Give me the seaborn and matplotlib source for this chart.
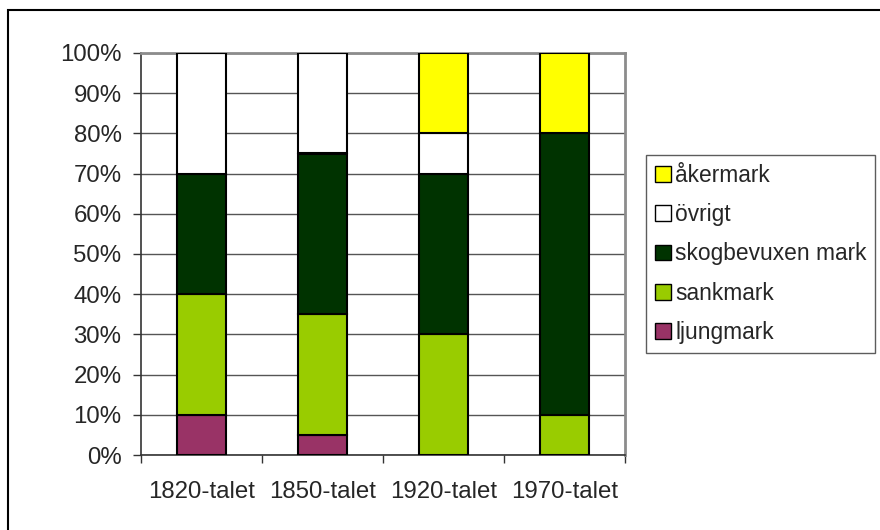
import numpy as np
import pandas as pd
import matplotlib
matplotlib.use("Agg")
import matplotlib.pyplot as plt
import matplotlib.patches as mpatches
import seaborn as sns

# data (andel i procent)
perioder = ["1820-talet", "1850-talet", "1920-talet", "1970-talet"]
ljungmark = [10, 5, 0, 0]
sankmark = [30, 30, 30, 10]
skogbevuxen = [30, 40, 40, 70]
ovrigt = [30, 25, 10, 0]
akermark = [0, 0, 20, 20]

serier = ["ljungmark", "sankmark", "skogbevuxen mark", "övrigt", "åkermark"]
farger = ["#993366", "#99CC00", "#003300", "#FFFFFF", "#FFFF00"]

df = pd.DataFrame({
    "period": perioder,
    "ljungmark": ljungmark,
    "sankmark": sankmark,
    "skogbevuxen mark": skogbevuxen,
    "övrigt": ovrigt,
    "åkermark": akermark,
})

sns.set_style("white")
plt.rcParams["font.family"] = ["Liberation Sans", "DejaVu Sans"]
fs = 17.3

fig = plt.figure(figsize=(8.8, 5.3), dpi=100)
ax = fig.add_axes([141 / 880, 1 - 455 / 530, 484 / 880, 402 / 530])

# staplade staplar
botten = np.zeros(len(perioder))
for serie, farg in zip(serier, farger):
    sns.barplot(data=df, x="period", y=serie, bottom=botten, color=farg,
                saturation=1, width=0.4, edgecolor="black", linewidth=1.5,
                ax=ax, zorder=3)
    botten = botten + df[serie].to_numpy()

ax.set_ylim(0, 100)
ax.set_xlim(-0.5, len(perioder) - 0.5)
ax.set_yticks(np.arange(0, 101, 10))
ax.set_yticklabels([f"{v}%" for v in range(0, 101, 10)], fontsize=fs)
ax.set_xlabel("")
ax.set_ylabel("")

# rutnät
ax.yaxis.grid(True, color="#555555", linewidth=1, zorder=0)
ax.set_axisbelow(True)

# axlar
for s in ["top", "right"]:
    ax.spines[s].set_color("#8c8c8c")
    ax.spines[s].set_linewidth(2)
for s in ["left", "bottom"]:
    ax.spines[s].set_color("#333333")
    ax.spines[s].set_linewidth(1.2)

ax.tick_params(axis="y", direction="out", length=6, width=1, color="#333333",
               pad=8, left=True)
# x-ticks vid kategorigränserna, etiketter i mitten
ax.set_xticks(np.arange(-0.5, len(perioder), 1.0), minor=True)
ax.tick_params(axis="x", which="minor", direction="out", length=6, width=1,
               color="#333333", bottom=True)
ax.tick_params(axis="x", which="major", length=0, pad=19, labelsize=fs)

# förklaring
handtag = [mpatches.Patch(facecolor=f, edgecolor="black", linewidth=1, label=s)
           for s, f in zip(serier, farger)][::-1]
leg = fig.legend(handles=handtag, loc="upper left",
                 bbox_to_anchor=(646 / 880, 1 - 155 / 530),
                 frameon=True, fancybox=False, edgecolor="#333333",
                 fontsize=16.4,
                 handlelength=0.7, handleheight=0.7, handletextpad=0.2,
                 labelspacing=0.72, borderpad=0.38, borderaxespad=0)
leg.get_frame().set_linewidth(1)

# ram runt diagrammet
ram = mpatches.Rectangle((8 / 880, -0.1), 1.2, 1 - 10 / 530 + 0.1,
                         transform=fig.transFigure, fill=False,
                         edgecolor="black", linewidth=1.5, clip_on=False)
fig.patches.append(ram)

fig.savefig("out.png", dpi=100)
